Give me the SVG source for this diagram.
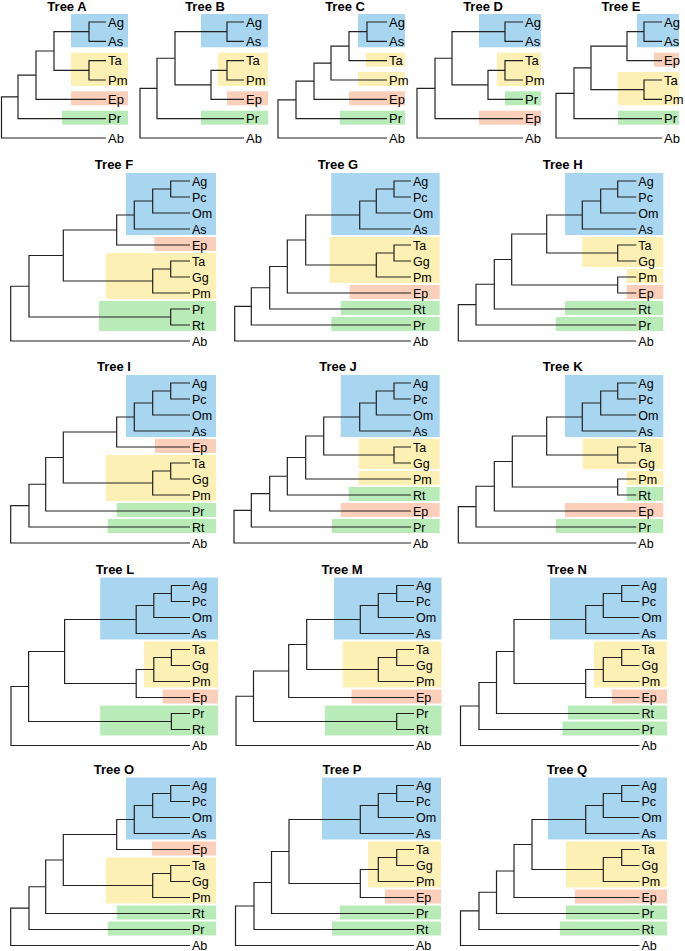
<svg xmlns="http://www.w3.org/2000/svg" width="685" height="951" viewBox="0 0 685 951">
<style>
.t{font-family:"Liberation Sans",Arial,sans-serif;font-weight:bold;font-size:13px;text-anchor:middle;fill:#000}
.l{font-family:"Liberation Sans",Arial,sans-serif;font-size:12.5px;fill:#000}
.s{font-size:13px}
.e{fill:none;stroke:#222;stroke-width:1.2}
.b{fill:#a8d5ef}.y{fill:#fdf0b4}.r{fill:#fbcfba}.gn{fill:#b9ebb9}
</style>
<rect width="685" height="951" fill="#fff"/>

<g id="tree-A">
<text class="t" x="67" y="10.5">Tree A</text>
<rect class="b" x="71" y="14" width="57" height="33.3"/>
<rect class="y" x="71" y="52.7" width="57" height="33.3"/>
<rect class="r" x="71" y="91.3" width="57" height="14"/>
<rect class="gn" x="62" y="110.7" width="66" height="14"/>
<g id="tree-A-edges" class="e"><path d="M106 22H89V41.33H106M106 60.67H89V80H106M89 31.67H54V70.33H89M54 51H36V99.33H106M36 75.17H18V118.67H106M18 96.9H1.5V138H106"/></g>
<g class="l s"><text x="108" y="26.7">Ag</text><text x="108" y="46">As</text><text x="108" y="65.4">Ta</text><text x="108" y="84.7">Pm</text><text x="108" y="104">Ep</text><text x="108" y="123.4">Pr</text><text x="108" y="142.7">Ab</text></g>
</g>

<g id="tree-B">
<text class="t" x="205" y="10.5">Tree B</text>
<rect class="b" x="201" y="14" width="67" height="33.3"/>
<rect class="y" x="218" y="52.7" width="50" height="33.3"/>
<rect class="r" x="227" y="91.3" width="41" height="14"/>
<rect class="gn" x="201" y="110.7" width="67" height="14"/>
<g id="tree-B-edges" class="e"><path d="M244 22H227V41.33H244M244 60.67H227V80H244M227 70.33H211V99.33H244M227 31.67H175V84.83H211M175 58.25H157V118.67H244M157 88.46H140V138H244"/></g>
<g class="l s"><text x="246" y="26.7">Ag</text><text x="246" y="46">As</text><text x="246" y="65.4">Ta</text><text x="246" y="84.7">Pm</text><text x="246" y="104">Ep</text><text x="246" y="123.4">Pr</text><text x="246" y="142.7">Ab</text></g>
</g>

<g id="tree-C">
<text class="t" x="345" y="10.5">Tree C</text>
<rect class="b" x="358" y="14" width="47" height="33.3"/>
<rect class="y" x="366" y="52.7" width="39" height="14"/>
<rect class="y" x="358" y="72" width="47" height="14"/>
<rect class="r" x="349" y="91.3" width="56" height="14"/>
<rect class="gn" x="340" y="110.7" width="65" height="14"/>
<g id="tree-C-edges" class="e"><path d="M387 22H367V41.33H387M367 31.67H349V60.67H387M349 46.17H331V80H387M331 63.08H314V99.33H387M314 81.2H296V118.67H387M296 99.94H278V138H387"/></g>
<g class="l s"><text x="389" y="26.7">Ag</text><text x="389" y="46">As</text><text x="389" y="65.4">Ta</text><text x="389" y="84.7">Pm</text><text x="389" y="104">Ep</text><text x="389" y="123.4">Pr</text><text x="389" y="142.7">Ab</text></g>
</g>

<g id="tree-D">
<text class="t" x="483" y="10.5">Tree D</text>
<rect class="b" x="479" y="14" width="62" height="33.3"/>
<rect class="y" x="497" y="52.7" width="44" height="33.3"/>
<rect class="gn" x="505" y="91.3" width="36" height="14"/>
<rect class="r" x="479" y="110.7" width="62" height="14"/>
<g id="tree-D-edges" class="e"><path d="M523 22H505V41.33H523M523 60.67H505V80H523M505 70.33H488V99.33H523M505 31.67H452V84.83H488M452 58.25H435V118.67H523M435 88.46H417V138H523"/></g>
<g class="l s"><text x="525" y="26.7">Ag</text><text x="525" y="46">As</text><text x="525" y="65.4">Ta</text><text x="525" y="84.7">Pm</text><text x="525" y="104">Pr</text><text x="525" y="123.4">Ep</text><text x="525" y="142.7">Ab</text></g>
</g>

<g id="tree-E">
<text class="t" x="621" y="10.5">Tree E</text>
<rect class="b" x="637" y="14" width="42" height="33.3"/>
<rect class="r" x="654" y="52.7" width="25" height="14"/>
<rect class="y" x="618" y="72" width="61" height="33.3"/>
<rect class="gn" x="618" y="110.7" width="61" height="14"/>
<g id="tree-E-edges" class="e"><path d="M662 22H644V41.33H662M644 31.67H627V60.67H662M662 80H644V99.33H662M627 46.17H591V89.67H644M591 67.92H574V118.67H662M574 93.3H556V138H662"/></g>
<g class="l s"><text x="664" y="26.7">Ag</text><text x="664" y="46">As</text><text x="664" y="65.4">Ep</text><text x="664" y="84.7">Ta</text><text x="664" y="104">Pm</text><text x="664" y="123.4">Pr</text><text x="664" y="142.7">Ab</text></g>
</g>

<g id="tree-F">
<text class="t" x="114" y="169">Tree F</text>
<rect class="b" x="126" y="173" width="90" height="62"/>
<rect class="r" x="154.3" y="237" width="61.7" height="14"/>
<rect class="y" x="106" y="253" width="110" height="46"/>
<rect class="gn" x="99" y="301" width="117" height="30"/>
<g id="tree-F-edges" class="e"><path d="M190 181H170.7V197H190M170.7 189H152.7V213H190M152.7 201H134.3V229H190M134.3 215H116.7V245H190M190 261H170.7V277H190M170.7 269H152.7V293H190M116.7 230H63.3V281H152.7M190 309H170.7V325H190M63.3 255.5H29V317H170.7M29 286.25H10.7V341H190"/></g>
<g class="l"><text x="192" y="185.5">Ag</text><text x="192" y="201.5">Pc</text><text x="192" y="217.5">Om</text><text x="192" y="233.5">As</text><text x="192" y="249.5">Ep</text><text x="192" y="265.5">Ta</text><text x="192" y="281.5">Gg</text><text x="192" y="297.5">Pm</text><text x="192" y="313.5">Pr</text><text x="192" y="329.5">Rt</text><text x="192" y="345.5">Ab</text></g>
</g>

<g id="tree-G">
<text class="t" x="338" y="169">Tree G</text>
<rect class="b" x="331.3" y="173" width="108.4" height="62"/>
<rect class="y" x="329.7" y="237" width="110" height="46"/>
<rect class="r" x="349.7" y="285" width="90" height="14"/>
<rect class="gn" x="340.7" y="301" width="99" height="14"/>
<rect class="gn" x="331.3" y="317" width="108.4" height="14"/>
<g id="tree-G-edges" class="e"><path d="M411 181H394V197H411M394 189H376.3V213H411M376.3 201H359.7V229H411M411 245H394V261H411M394 253H376.3V277H411M359.7 215H305.7V265H376.3M305.7 240H287.3V293H411M287.3 266.5H269.7V309H411M269.7 287.75H251.3V325H411M251.3 306.4H234.7V341H411"/></g>
<g class="l"><text x="413" y="185.5">Ag</text><text x="413" y="201.5">Pc</text><text x="413" y="217.5">Om</text><text x="413" y="233.5">As</text><text x="413" y="249.5">Ta</text><text x="413" y="265.5">Gg</text><text x="413" y="281.5">Pm</text><text x="413" y="297.5">Ep</text><text x="413" y="313.5">Rt</text><text x="413" y="329.5">Pr</text><text x="413" y="345.5">Ab</text></g>
</g>

<g id="tree-H">
<text class="t" x="562.7" y="169">Tree H</text>
<rect class="b" x="565" y="173" width="98.3" height="62"/>
<rect class="y" x="582.3" y="237" width="81" height="30"/>
<rect class="y" x="626.7" y="269" width="36.6" height="14"/>
<rect class="r" x="626.7" y="285" width="36.6" height="14"/>
<rect class="gn" x="565" y="301" width="98.3" height="14"/>
<rect class="gn" x="555.7" y="317" width="107.6" height="14"/>
<g id="tree-H-edges" class="e"><path d="M636.3 181H617.7V197H636.3M617.7 189H600.7V213H636.3M600.7 201H582.3V229H636.3M636.3 245H617.7V261H636.3M582.3 215H546.7V253H617.7M636.3 277H617.7V293H636.3M546.7 234H511.7V285H617.7M511.7 259.5H494.3V309H636.3M494.3 284.25H476V325H636.3M476 304.6H458.3V341H636.3"/></g>
<g class="l"><text x="638.3" y="185.5">Ag</text><text x="638.3" y="201.5">Pc</text><text x="638.3" y="217.5">Om</text><text x="638.3" y="233.5">As</text><text x="638.3" y="249.5">Ta</text><text x="638.3" y="265.5">Gg</text><text x="638.3" y="281.5">Pm</text><text x="638.3" y="297.5">Ep</text><text x="638.3" y="313.5">Rt</text><text x="638.3" y="329.5">Pr</text><text x="638.3" y="345.5">Ab</text></g>
</g>

<g id="tree-I">
<text class="t" x="114" y="371">Tree I</text>
<rect class="b" x="126" y="375" width="90" height="62"/>
<rect class="r" x="155" y="439" width="61" height="14"/>
<rect class="y" x="106" y="455" width="110" height="46"/>
<rect class="gn" x="116.7" y="503" width="99.3" height="14"/>
<rect class="gn" x="107.7" y="519" width="108.3" height="14"/>
<g id="tree-I-edges" class="e"><path d="M190 383H170.7V399H190M170.7 391H152.7V415H190M152.7 403H134.3V431H190M134.3 417H116.7V447H190M190 463H170.7V479H190M170.7 471H152.7V495H190M116.7 432H63.3V483H152.7M63.3 457.5H45.7V511H190M45.7 484.25H29V527H190M29 505.6H10.7V543H190"/></g>
<g class="l"><text x="192" y="387.5">Ag</text><text x="192" y="403.5">Pc</text><text x="192" y="419.5">Om</text><text x="192" y="435.5">As</text><text x="192" y="451.5">Ep</text><text x="192" y="467.5">Ta</text><text x="192" y="483.5">Gg</text><text x="192" y="499.5">Pm</text><text x="192" y="515.5">Pr</text><text x="192" y="531.5">Rt</text><text x="192" y="547.5">Ab</text></g>
</g>

<g id="tree-J">
<text class="t" x="338" y="371">Tree J</text>
<rect class="b" x="340.7" y="375" width="99" height="62"/>
<rect class="y" x="358.7" y="439" width="81" height="30"/>
<rect class="y" x="358.7" y="471" width="81" height="14"/>
<rect class="gn" x="348.7" y="487" width="91" height="14"/>
<rect class="r" x="340.7" y="503" width="99" height="14"/>
<rect class="gn" x="332" y="519" width="107.7" height="14"/>
<g id="tree-J-edges" class="e"><path d="M411 383H394V399H411M394 391H376.3V415H411M376.3 403H359.7V431H411M411 447H394V463H411M359.7 417H323.7V455H394M323.7 436H305.7V479H411M305.7 457.5H287.3V495H411M287.3 476.25H269.7V511H411M269.7 493.6H251.3V527H411M251.3 510.3H234V543H411"/></g>
<g class="l"><text x="413" y="387.5">Ag</text><text x="413" y="403.5">Pc</text><text x="413" y="419.5">Om</text><text x="413" y="435.5">As</text><text x="413" y="451.5">Ta</text><text x="413" y="467.5">Gg</text><text x="413" y="483.5">Pm</text><text x="413" y="499.5">Rt</text><text x="413" y="515.5">Ep</text><text x="413" y="531.5">Pr</text><text x="413" y="547.5">Ab</text></g>
</g>

<g id="tree-K">
<text class="t" x="562.7" y="371">Tree K</text>
<rect class="b" x="565" y="375" width="98.3" height="62"/>
<rect class="y" x="582.7" y="439" width="80.6" height="30"/>
<rect class="y" x="626.7" y="471" width="36.6" height="14"/>
<rect class="gn" x="626.7" y="487" width="36.6" height="14"/>
<rect class="r" x="565" y="503" width="98.3" height="14"/>
<rect class="gn" x="556" y="519" width="107.3" height="14"/>
<g id="tree-K-edges" class="e"><path d="M636.3 383H617.7V399H636.3M617.7 391H600.7V415H636.3M600.7 403H582.3V431H636.3M636.3 447H617.7V463H636.3M582.3 417H546.7V455H617.7M636.3 479H617.7V495H636.3M546.7 436H512.3V487H617.7M512.3 461.5H494.3V511H636.3M494.3 486.25H476V527H636.3M476 506.6H458.3V543H636.3"/></g>
<g class="l"><text x="638.3" y="387.5">Ag</text><text x="638.3" y="403.5">Pc</text><text x="638.3" y="419.5">Om</text><text x="638.3" y="435.5">As</text><text x="638.3" y="451.5">Ta</text><text x="638.3" y="467.5">Gg</text><text x="638.3" y="483.5">Pm</text><text x="638.3" y="499.5">Rt</text><text x="638.3" y="515.5">Ep</text><text x="638.3" y="531.5">Pr</text><text x="638.3" y="547.5">Ab</text></g>
</g>

<g id="tree-L">
<text class="t" x="115" y="573.5">Tree L</text>
<rect class="b" x="100.2" y="577.5" width="117.8" height="62"/>
<rect class="y" x="144.1" y="641.5" width="73.9" height="46"/>
<rect class="r" x="162.6" y="689.5" width="55.4" height="14"/>
<rect class="gn" x="100.2" y="705.5" width="117.8" height="30"/>
<g id="tree-L-edges" class="e"><path d="M190 585.5H171.4V601.5H190M171.4 593.5H153.8V617.5H190M153.8 605.5H136.2V633.5H190M190 649.5H171.4V665.5H190M171.4 657.5H153.8V681.5H190M153.8 669.5H136.2V697.5H190M136.2 619.5H64.6V683.5H136.2M190 713.5H171.4V729.5H190M64.6 651.5H28.6V721.5H171.4M28.6 686.5H11V745.5H190"/></g>
<g class="l"><text x="192" y="590">Ag</text><text x="192" y="606">Pc</text><text x="192" y="622">Om</text><text x="192" y="638">As</text><text x="192" y="654">Ta</text><text x="192" y="670">Gg</text><text x="192" y="686">Pm</text><text x="192" y="702">Ep</text><text x="192" y="718">Pr</text><text x="192" y="734">Rt</text><text x="192" y="750">Ab</text></g>
</g>

<g id="tree-M">
<text class="t" x="342" y="573.5">Tree M</text>
<rect class="b" x="334" y="577.5" width="107.5" height="62"/>
<rect class="y" x="342.7" y="641.5" width="98.8" height="46"/>
<rect class="r" x="351.5" y="689.5" width="90" height="14"/>
<rect class="gn" x="325" y="705.5" width="116.5" height="30"/>
<g id="tree-M-edges" class="e"><path d="M414 585.5H396.7V601.5H414M396.7 593.5H378.3V617.5H414M378.3 605.5H360.3V633.5H414M414 649.5H396.7V665.5H414M396.7 657.5H378.3V681.5H414M360.3 619.5H306.7V669.5H378.3M306.7 644.5H288.7V697.5H414M414 713.5H396.7V729.5H414M288.7 671H253.5V721.5H396.7M253.5 696.25H236V745.5H414"/></g>
<g class="l"><text x="416" y="590">Ag</text><text x="416" y="606">Pc</text><text x="416" y="622">Om</text><text x="416" y="638">As</text><text x="416" y="654">Ta</text><text x="416" y="670">Gg</text><text x="416" y="686">Pm</text><text x="416" y="702">Ep</text><text x="416" y="718">Pr</text><text x="416" y="734">Rt</text><text x="416" y="750">Ab</text></g>
</g>

<g id="tree-N">
<text class="t" x="567" y="573.5">Tree N</text>
<rect class="b" x="550" y="577.5" width="117" height="62"/>
<rect class="y" x="594" y="641.5" width="73" height="46"/>
<rect class="r" x="612" y="689.5" width="55" height="14"/>
<rect class="gn" x="568" y="705.5" width="99" height="14"/>
<rect class="gn" x="562.4" y="721.5" width="104.6" height="14"/>
<g id="tree-N-edges" class="e"><path d="M639.5 585.5H621.7V601.5H639.5M621.7 593.5H603.3V617.5H639.5M603.3 605.5H585.7V633.5H639.5M639.5 649.5H621.7V665.5H639.5M621.7 657.5H603.3V681.5H639.5M603.3 669.5H585.7V697.5H639.5M585.7 619.5H514V683.5H585.7M514 651.5H496.5V713.5H639.5M496.5 682.5H479V729.5H639.5M479 706H460.5V745.5H639.5"/></g>
<g class="l"><text x="641.5" y="590">Ag</text><text x="641.5" y="606">Pc</text><text x="641.5" y="622">Om</text><text x="641.5" y="638">As</text><text x="641.5" y="654">Ta</text><text x="641.5" y="670">Gg</text><text x="641.5" y="686">Pm</text><text x="641.5" y="702">Ep</text><text x="641.5" y="718">Rt</text><text x="641.5" y="734">Pr</text><text x="641.5" y="750">Ab</text></g>
</g>

<g transform="translate(0,-1.5)">
<g id="tree-O">
<text class="t" x="114" y="775">Tree O</text>
<rect class="b" x="126" y="779" width="90" height="62"/>
<rect class="r" x="152" y="843" width="64" height="14"/>
<rect class="y" x="106" y="859" width="110" height="46"/>
<rect class="gn" x="116.7" y="907" width="99.3" height="14"/>
<rect class="gn" x="107.7" y="923" width="108.3" height="14"/>
<g id="tree-O-edges" class="e"><path d="M190 787H170.7V803H190M170.7 795H152.7V819H190M152.7 807H134.3V835H190M134.3 821H116.7V851H190M190 867H170.7V883H190M170.7 875H152.7V899H190M116.7 836H63.3V887H152.7M63.3 861.5H45.7V915H190M45.7 888.25H29V931H190M29 909.6H10.7V947H190"/></g>
<g class="l"><text x="192" y="791.5">Ag</text><text x="192" y="807.5">Pc</text><text x="192" y="823.5">Om</text><text x="192" y="839.5">As</text><text x="192" y="855.5">Ep</text><text x="192" y="871.5">Ta</text><text x="192" y="887.5">Gg</text><text x="192" y="903.5">Pm</text><text x="192" y="919.5">Rt</text><text x="192" y="935.5">Pr</text><text x="192" y="951">Ab</text></g>
</g>

<g id="tree-P">
<text class="t" x="342" y="775">Tree P</text>
<rect class="b" x="322" y="779" width="119" height="62"/>
<rect class="y" x="368" y="843" width="73" height="46"/>
<rect class="r" x="385" y="891" width="56" height="14"/>
<rect class="gn" x="340" y="907" width="101" height="14"/>
<rect class="gn" x="332" y="923" width="109" height="14"/>
<g id="tree-P-edges" class="e"><path d="M414 787H396.7V803H414M396.7 795H378.3V819H414M378.3 807H360.3V835H414M414 851H396.7V867H414M396.7 859H378.3V883H414M378.3 871H360.3V899H414M360.3 821H289V885H360.3M289 853H271.5V915H414M271.5 884H254V931H414M254 907.5H235.5V947H414"/></g>
<g class="l"><text x="416" y="791.5">Ag</text><text x="416" y="807.5">Pc</text><text x="416" y="823.5">Om</text><text x="416" y="839.5">As</text><text x="416" y="855.5">Ta</text><text x="416" y="871.5">Gg</text><text x="416" y="887.5">Pm</text><text x="416" y="903.5">Ep</text><text x="416" y="919.5">Pr</text><text x="416" y="935.5">Rt</text><text x="416" y="951">Ab</text></g>
</g>

<g id="tree-Q">
<text class="t" x="567" y="775">Tree Q</text>
<rect class="b" x="548" y="779" width="119" height="62"/>
<rect class="y" x="566" y="843" width="101" height="46"/>
<rect class="r" x="575" y="891" width="92" height="14"/>
<rect class="gn" x="566" y="907" width="101" height="14"/>
<rect class="gn" x="560" y="923" width="107" height="14"/>
<g id="tree-Q-edges" class="e"><path d="M639.5 787H621.7V803H639.5M621.7 795H603.3V819H639.5M603.3 807H585.7V835H639.5M639.5 851H621.7V867H639.5M621.7 859H603.3V883H639.5M585.7 821H532V871H603.3M532 846H514V899H639.5M514 872.5H496.5V915H639.5M496.5 893.75H479V931H639.5M479 912.4H460.5V947H639.5"/></g>
<g class="l"><text x="641.5" y="791.5">Ag</text><text x="641.5" y="807.5">Pc</text><text x="641.5" y="823.5">Om</text><text x="641.5" y="839.5">As</text><text x="641.5" y="855.5">Ta</text><text x="641.5" y="871.5">Gg</text><text x="641.5" y="887.5">Pm</text><text x="641.5" y="903.5">Ep</text><text x="641.5" y="919.5">Pr</text><text x="641.5" y="935.5">Rt</text><text x="641.5" y="951">Ab</text></g>
</g>
</g>
</svg>
